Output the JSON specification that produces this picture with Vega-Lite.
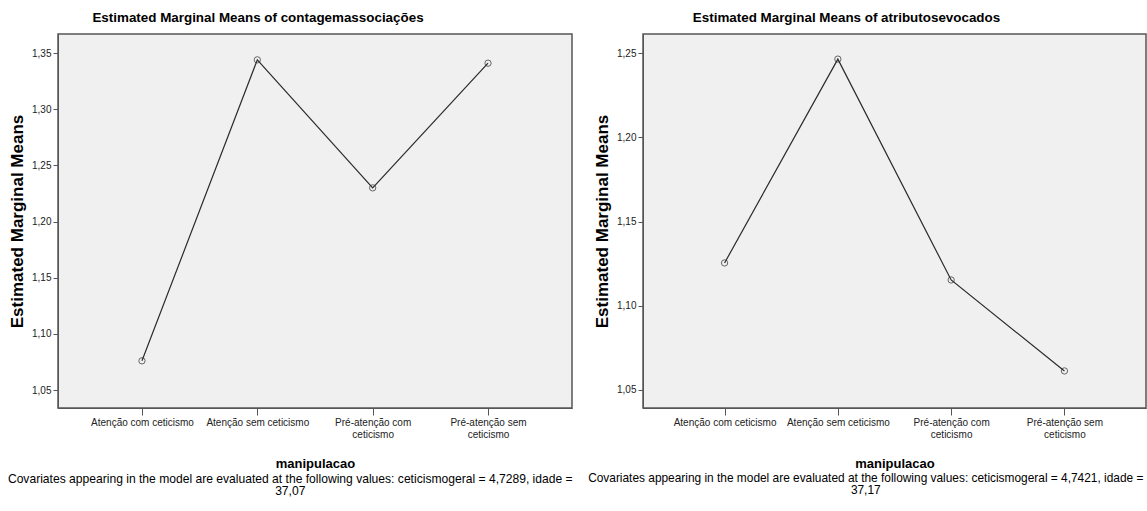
{
  "$schema": "https://vega.github.io/schema/vega-lite/v6.json",
  "background": "white",
  "padding": {"left": 7, "top": 9, "right": 0, "bottom": 0},
  "config": {
    "font": "Liberation Sans",
    "view": {"fill": "#f0f0f0", "stroke": "#555555", "strokeWidth": 1.5},
    "concat": {"spacing": 15},
    "axis": {
      "domainColor": "#555555",
      "tickColor": "#555555",
      "labelColor": "#222222",
      "labelFont": "Liberation Sans",
      "labelFontSize": 10,
      "titleFont": "Liberation Sans",
      "titleFontSize": 13,
      "titleFontWeight": "bold",
      "titleColor": "#000000",
      "grid": false
    },
    "axisY": {"titleFontSize": 17},
    "title": {"font": "Liberation Sans", "color": "#000000"}
  },
  "hconcat": [
    {
      "title": {
        "text": ["Covariates appearing in the model are evaluated at the following values: ceticismogeral = 4,7289, idade =", "37,07"],
        "orient": "bottom", "anchor": "middle", "frame": "bounds",
        "fontSize": 12.1, "fontWeight": "normal", "lineHeight": 12, "offset": 2
      },
      "vconcat": [
        {
          "title": {"text": "Estimated Marginal Means of contagemassociações", "fontSize": 13.4, "fontWeight": "bold", "anchor": "middle", "frame": "group", "dx": -57, "offset": 10},
          "width": 514,
          "height": 374,
          "data": {"values": [
            {"manipulacao": "Atenção com ceticismo", "mean": 1.076},
            {"manipulacao": "Atenção sem ceticismo", "mean": 1.344},
            {"manipulacao": "Pré-atenção com ceticismo", "mean": 1.230},
            {"manipulacao": "Pré-atenção sem ceticismo", "mean": 1.341}
          ]},
          "encoding": {
            "x": {"field": "manipulacao", "type": "nominal", "sort": null,
              "scale": {"type": "point", "padding": 0.728},
              "axis": {"title": "manipulacao", "labelAngle": 0, "tickSize": 7, "labelPadding": 2, "titlePadding": 18,
                "labelExpr": "indexof(datum.value,'Pré')==0 ? [replace(datum.value,' ceticismo',''), 'ceticismo'] : datum.value", "labelLineHeight": 12}},
            "y": {"field": "mean", "type": "quantitative",
              "scale": {"domain": [1.034, 1.367], "nice": false, "zero": false},
              "axis": {"title": "Estimated Marginal Means", "values": [1.05, 1.1, 1.15, 1.2, 1.25, 1.3, 1.35], "tickSize": 5, "labelPadding": 2, "titlePadding": 5,
                "labelExpr": "replace(format(datum.value, '.2f'), '.', ',')"}}
          },
          "layer": [
            {"mark": {"type": "line", "color": "#2b2b2b", "strokeWidth": 1.2}},
            {"mark": {"type": "point", "shape": "circle", "filled": false, "color": "#2b2b2b", "size": 40, "strokeWidth": 1}}
          ]
        }
      ]
    },
    {
      "title": {
        "text": ["Covariates appearing in the model are evaluated at the following values: ceticismogeral = 4,7421, idade =", "37,17"],
        "orient": "bottom", "anchor": "middle", "frame": "bounds",
        "fontSize": 11.9, "fontWeight": "normal", "lineHeight": 12, "offset": 2, "dx": -4
      },
      "vconcat": [
        {
          "title": {"text": "Estimated Marginal Means of atributosevocados", "fontSize": 13.4, "fontWeight": "bold", "anchor": "middle", "frame": "group", "dx": -48, "offset": 10},
          "width": 503,
          "height": 374,
          "data": {"values": [
            {"manipulacao": "Atenção com ceticismo", "mean": 1.1254},
            {"manipulacao": "Atenção sem ceticismo", "mean": 1.2464},
            {"manipulacao": "Pré-atenção com ceticismo", "mean": 1.1153},
            {"manipulacao": "Pré-atenção sem ceticismo", "mean": 1.0613}
          ]},
          "encoding": {
            "x": {"field": "manipulacao", "type": "nominal", "sort": null,
              "scale": {"type": "point", "padding": 0.72},
              "axis": {"title": "manipulacao", "labelAngle": 0, "tickSize": 7, "labelPadding": 2, "titlePadding": 18,
                "labelExpr": "indexof(datum.value,'Pré')==0 ? [replace(datum.value,' ceticismo',''), 'ceticismo'] : datum.value", "labelLineHeight": 12}},
            "y": {"field": "mean", "type": "quantitative",
              "scale": {"domain": [1.0393, 1.2613], "nice": false, "zero": false},
              "axis": {"title": "Estimated Marginal Means", "values": [1.05, 1.1, 1.15, 1.2, 1.25], "tickSize": 5, "labelPadding": 2, "titlePadding": 5,
                "labelExpr": "replace(format(datum.value, '.2f'), '.', ',')"}}
          },
          "layer": [
            {"mark": {"type": "line", "color": "#2b2b2b", "strokeWidth": 1.2}},
            {"mark": {"type": "point", "shape": "circle", "filled": false, "color": "#2b2b2b", "size": 40, "strokeWidth": 1}}
          ]
        }
      ]
    }
  ]
}
